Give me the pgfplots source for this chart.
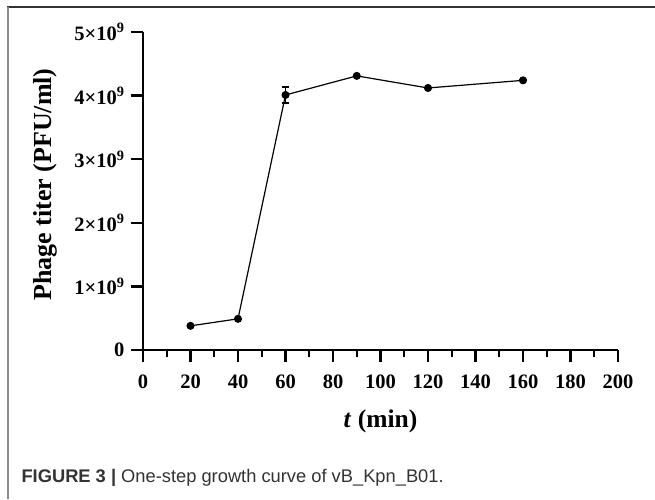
\documentclass[border=0pt]{standalone}
\usepackage{pgfplots}
\pgfplotsset{compat=1.18}
\usepackage{fontspec}
\setmainfont{Liberation Serif}
\newfontfamily\capfont{Liberation Sans}
\definecolor{capgray}{HTML}{333333}
\begin{document}
\begin{tikzpicture}[x=1pt,y=1pt]
\useasboundingbox (0,0) rectangle (655,499);
\draw[line width=1.5pt, color=black!80] (7,492) -- (655,492);
\draw[line width=2pt, color=black!45] (8,492) -- (8,0);
\node[anchor=west, text=capgray, font=\capfont\fontsize{18.3}{21}\selectfont] at (18,21) {\textbf{FIGURE 3 |} One-step growth curve of vB\_Kpn\_B01.};
\begin{axis}[
  at={(143pt,149pt)}, anchor=south west,
  scale only axis, width=475pt, height=318pt,
  xmin=0, xmax=200, ymin=0, ymax=5e9,
  axis x line=bottom, axis y line=left,
  axis line style={-, line width=2.6pt},
  tick style={line width=2.4pt, color=black},
  tick align=outside,
  major tick length=12pt, minor tick length=7pt,
  xtick={0,20,...,200}, minor x tick num=1,
  ytick={0,1e9,2e9,3e9,4e9,5e9},
  yticklabels={0,1\texttimes10\textsuperscript{9},2\texttimes10\textsuperscript{9},3\texttimes10\textsuperscript{9},4\texttimes10\textsuperscript{9},5\texttimes10\textsuperscript{9}},
  scaled y ticks=false,
  /pgf/number format/assume math mode=true,
  ticklabel style={font=\bfseries\fontsize{20.5}{24}\selectfont},
  xticklabel style={yshift=-9pt},
  yticklabel style={xshift=-3pt},
  xlabel={\textbf{\textit{t} (min)}},
  ylabel={\textbf{Phage titer (PFU/ml)}},
  every axis x label/.style={at={(axis description cs:0.5,0)}, anchor=center, yshift=-71pt, font=\bfseries\fontsize{25.5}{30}\selectfont},
  every axis y label/.style={at={(axis description cs:-0.205,0.52)}, rotate=90, anchor=center, font=\bfseries\fontsize{26}{30}\selectfont},
  clip=false,
]
\addplot[black, line width=1.2pt, mark=*, mark size=3.4pt,
  error bars/.cd, y dir=both, y explicit,
  error bar style={line width=1.6pt},
  error mark options={rotate=90, mark size=3.6pt, line width=1.8pt}]
  coordinates {
  (20,0.38e9) +- (0,0)
  (40,0.49e9) +- (0,0)
  (60,4.01e9) +- (0,0.12e9)
  (90,4.31e9) +- (0,0)
  (120,4.12e9) +- (0,0)
  (160,4.24e9) +- (0,0)
  };
\end{axis}
\end{tikzpicture}
\end{document}
